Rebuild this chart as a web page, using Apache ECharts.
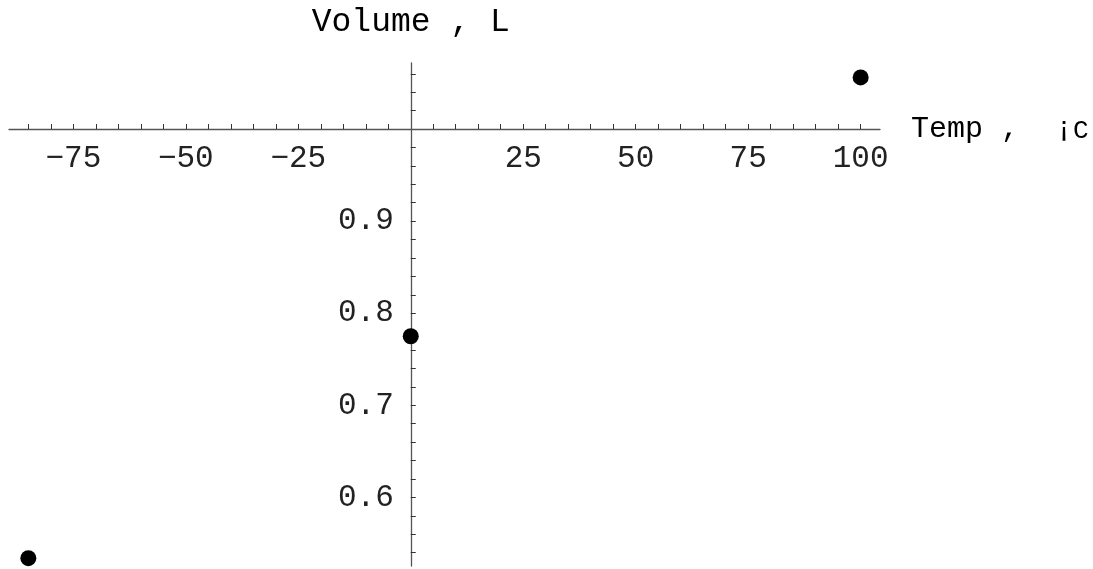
<!DOCTYPE html>
<html>
<head>
<meta charset="utf-8">
<style>html,body{margin:0;padding:0;background:#fff;}#c{width:1093px;height:569px;}</style>
<script src="https://cdn.jsdelivr.net/npm/echarts@6/dist/echarts.min.js"></script>
</head>
<body>
<div id="c"></div>
<script>
// Data
const temps = [-85, 0, 100];
const volumes = [0.534, 0.775, 1.056];
const xTicks = [-85,-80,-75,-70,-65,-60,-55,-50,-45,-40,-35,-30,-25,-20,-15,-10,-5,5,10,15,20,25,30,35,40,45,50,55,60,65,70,75,80,85,90,95,100];
const xLabels = [-75, -50, -25, 25, 50, 75, 100];
const yTicks = [0.54,0.56,0.58,0.60,0.62,0.64,0.66,0.68,0.70,0.72,0.74,0.76,0.78,0.80,0.82,0.84,0.86,0.88,0.90,0.92,0.94,0.96,0.98,1.02,1.04,1.06];
const yLabels = [0.6, 0.7, 0.8, 0.9];
const xCross = 1.0; // x axis crosses the y axis at this volume
const yCross = 0;   // y axis crosses the x axis at this temperature

const FONT = '"Liberation Mono", "DejaVu Sans Mono", monospace';
const chart = echarts.init(document.getElementById('c'), null, {renderer: 'canvas'});
const option = {
  backgroundColor: '#fff',
  animation: false,
  grid: {left: 9, right: 213, top: 63, bottom: 3, containLabel: false, outerBoundsMode: 'none'},
  xAxis: {
    type: 'value', min: -89.3, max: 104.3,
    position: 'bottom', offset: 0,
    name: '{a|Temp ,  ¡}{b|C}', nameLocation: 'end', nameGap: 31,
    nameTextStyle: {
      verticalAlign: 'middle',
      rich: {
        a: {fontFamily: FONT, fontSize: 30, color: '#000'},
        b: {fontFamily: FONT, fontSize: 26, color: '#000', verticalAlign: 'bottom'}
      }
    },
    axisLine: {onZero: false, lineStyle: {color: '#555', width: 1.3}},
    axisTick: {show: true, inside: true, length: 5, customValues: xTicks, lineStyle: {color: '#333', width: 1}},
    axisLabel: {
      customValues: xLabels, margin: 14, fontFamily: FONT, fontSize: 31, color: '#222',
      formatter: v => String(v).replace('-', '\u2212')
    },
    splitLine: {show: false}
  },
  yAxis: {
    type: 'value', min: 0.5255, max: 1.0717,
    position: 'left', offset: 0,
    name: 'Volume , L', nameLocation: 'end', nameGap: 24,
    nameTextStyle: {fontFamily: FONT, fontSize: 33, color: '#000', align: 'center'},
    axisLine: {onZero: false, lineStyle: {color: '#555', width: 1.3}},
    axisTick: {show: true, inside: true, length: 5, customValues: yTicks, lineStyle: {color: '#333', width: 1}},
    axisLabel: {
      customValues: yLabels, margin: 17, fontFamily: FONT, fontSize: 31, color: '#222',
      formatter: v => v.toFixed(1)
    },
    splitLine: {show: false}
  },
  series: [{
    type: 'scatter',
    data: temps.map((t, i) => [t, volumes[i]]),
    symbol: 'circle', symbolSize: 16,
    itemStyle: {color: '#000', opacity: 1}
  }]
};
chart.setOption(option);
// place the axes where they cross each other, using the library's scales
const py = chart.convertToPixel({yAxisIndex: 0}, xCross);
const bottomPx = chart.convertToPixel({yAxisIndex: 0}, option.yAxis.min);
const px = chart.convertToPixel({xAxisIndex: 0}, yCross);
const leftPx = chart.convertToPixel({xAxisIndex: 0}, option.xAxis.min);
chart.setOption({xAxis: {offset: -(bottomPx - py)}, yAxis: {offset: -(px - leftPx)}});
</script>
</body>
</html>
